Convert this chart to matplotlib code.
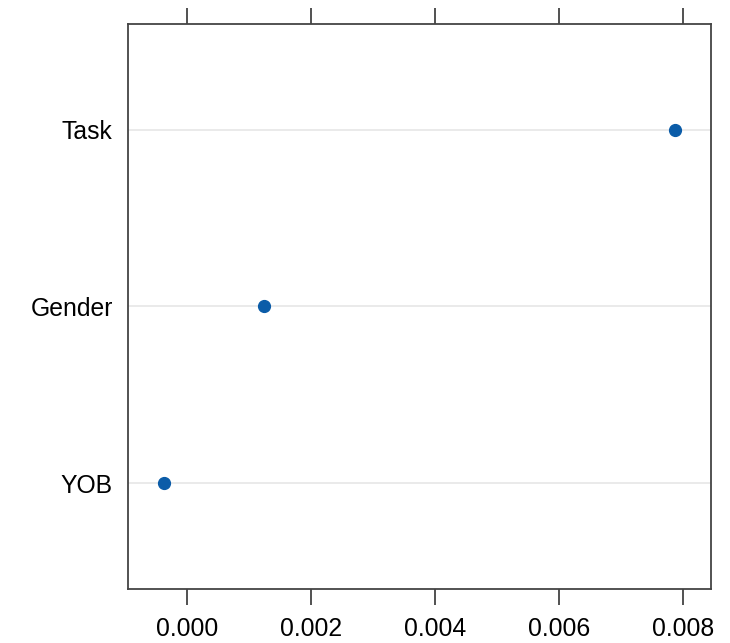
import numpy as np
import matplotlib.pyplot as plt

plt.rcParams['font.family'] = ['Liberation Sans', 'DejaVu Sans']

# data
variables = ["YOB", "Gender", "Task"]
importance = [-0.000366, 0.001245, 0.007866]
xticks = [0.000, 0.002, 0.004, 0.006, 0.008]

fig = plt.figure(figsize=(7.3, 6.43), dpi=100)
ax = fig.add_axes([128/730, 1-589/643, 583/730, 565/643])

ypos = np.arange(1, len(variables) + 1)
for y in ypos:
    ax.axhline(y, color='#e6e6e6', lw=1.2, zorder=1)
ax.plot(importance, ypos, 'o', color='#0b5ca8', ms=8.5, zorder=3)

ax.set_xlim(-0.000946, 0.008446)
ax.set_ylim(0.4, len(variables) + 0.6)
ax.set_xticks(xticks)
ax.set_xticklabels(["%.3f" % v for v in xticks])
ax.set_yticks(ypos)
ax.set_yticklabels(variables)

ax.tick_params(axis='x', top=True, labeltop=False, direction='out',
               length=11.5, width=1.1, color='#222222', labelsize=17.8, pad=9)
ax.tick_params(axis='y', length=0, labelsize=17.8, pad=11)
for s in ax.spines.values():
    s.set_linewidth(1.3)
    s.set_color('#444444')

fig.savefig('out.png', dpi=100)
